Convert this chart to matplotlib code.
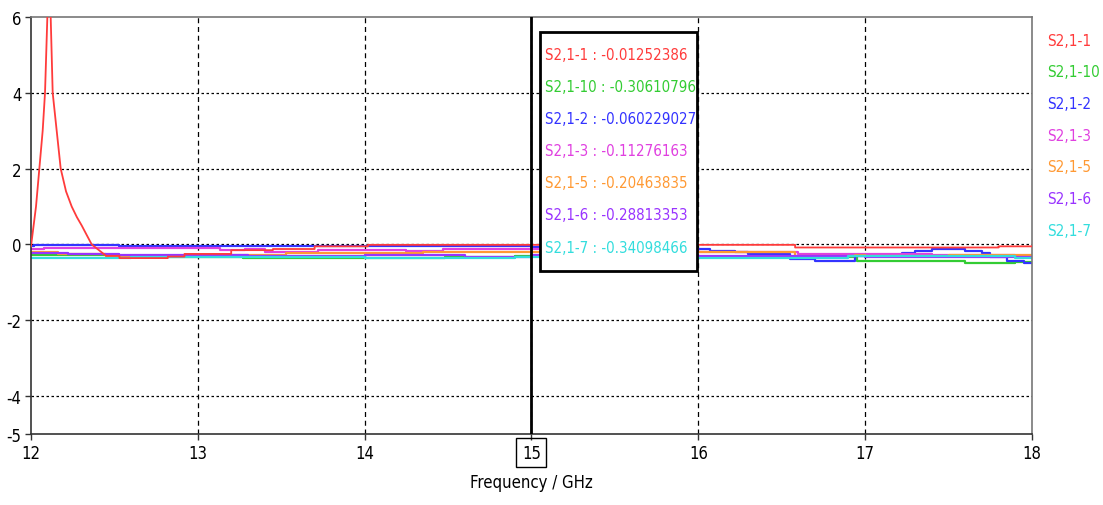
import matplotlib.pyplot as plt
from matplotlib.patches import Rectangle

plt.rcParams['font.family'] = ['DejaVu Sans']
plt.rcParams['font.stretch'] = 'condensed'
plt.rcParams['axes.unicode_minus'] = False

names = ["S2,1-1", "S2,1-10", "S2,1-2", "S2,1-3", "S2,1-5", "S2,1-6", "S2,1-7"]
colors = ["#FF3B3B", "#33CC33", "#3333FF", "#E040E0", "#FF9933", "#9933FF", "#33DDDD"]
marker_values = ["-0.01252386", "-0.30610796", "-0.060229027", "-0.11276163",
                 "-0.20463835", "-0.28813353", "-0.34098466"]

# red: resonance near 12.1 GHz, then steps
f_red = [12.0, 12.03, 12.05, 12.07, 12.084, 12.098, 12.108, 12.118, 12.13, 12.154,
         12.178, 12.21, 12.244, 12.275, 12.304, 12.335, 12.364, 12.43, 12.45, 12.53,
         12.53, 12.82, 12.82, 12.92, 12.92, 13.2, 13.2, 13.45, 13.45, 13.7, 13.7,
         14.02, 14.02, 16.58, 16.58, 17.8, 17.8, 18.0]
v_red = [-0.05, 1.0, 2.0, 3.0, 4.0, 6.0, 7.5, 6.0, 4.0, 3.0,
         2.0, 1.4, 1.0, 0.72, 0.5, 0.24, 0.0, -0.23, -0.3, -0.3,
         -0.36, -0.36, -0.32, -0.32, -0.25, -0.25, -0.15, -0.15, -0.12, -0.12, -0.05,
         -0.05, -0.01, -0.01, -0.08, -0.08, -0.05, -0.05]

# step series: value holds from each frequency to the next
f_green = [12.0, 12.47, 12.74, 13.27, 14.48, 14.9, 16.0, 16.4, 16.95, 17.6, 17.9, 18.0]
v_green = [-0.27, -0.3, -0.32, -0.36, -0.33, -0.306, -0.34, -0.33, -0.43, -0.48, -0.45, -0.45]

f_blue = [12.0, 12.02, 12.53, 15.0, 15.05, 16.07, 16.22, 16.3, 16.55, 16.7, 16.94,
          17.22, 17.3, 17.4, 17.6, 17.7, 17.75, 17.85, 17.95, 18.0]
v_blue = [-0.05, -0.01, -0.05, -0.06, -0.12, -0.17, -0.2, -0.25, -0.38, -0.43, -0.3,
          -0.22, -0.17, -0.13, -0.16, -0.22, -0.33, -0.43, -0.49, -0.49]

f_mag = [12.0, 12.08, 13.13, 13.28, 13.4, 13.72, 14.25, 14.47, 15.0, 16.0, 16.6, 17.4, 17.9, 18.0]
v_mag = [-0.12, -0.09, -0.15, -0.13, -0.2, -0.14, -0.16, -0.12, -0.113, -0.2, -0.25, -0.28, -0.3, -0.3]

f_orange = [12.0, 12.16, 12.45, 13.0, 13.53, 14.35, 15.0, 16.58, 16.94, 17.0, 17.5, 18.0]
v_orange = [-0.2, -0.25, -0.3, -0.27, -0.22, -0.2, -0.205, -0.3, -0.28, -0.3, -0.27, -0.27]

f_purple = [12.0, 12.22, 12.53, 13.3, 14.0, 14.6, 15.0, 16.0, 16.5, 17.0, 17.7, 18.0]
v_purple = [-0.22, -0.25, -0.27, -0.3, -0.28, -0.33, -0.288, -0.3, -0.31, -0.32, -0.33, -0.33]

f_cyan = [12.0, 12.6, 13.3, 14.0, 14.48, 14.9, 16.0, 16.9, 17.9, 18.0]
v_cyan = [-0.35, -0.33, -0.34, -0.36, -0.36, -0.34, -0.36, -0.3, -0.36, -0.36]

fig = plt.figure(figsize=(11.03, 5.06), dpi=100)
ax = fig.add_axes([31 / 1103, 1 - 435 / 506, 1001 / 1103, 417 / 506])

ax.plot(f_red, v_red, color=colors[0], lw=1.3, zorder=3)
steps = [(f_green, v_green), (f_blue, v_blue), (f_mag, v_mag), (f_orange, v_orange),
         (f_purple, v_purple), (f_cyan, v_cyan)]
for (f, v), c in zip(steps, colors[1:]):
    ax.plot(f, v, color=c, lw=1.6, drawstyle='steps-post', zorder=2)

ax.set_xlim(12, 18)
ax.set_ylim(-5, 6)
ax.set_xticks([12, 13, 14, 15, 16, 17, 18])
ax.set_yticks([6, 4, 2, 0, -2, -4, -5])
ax.tick_params(labelsize=12, length=4, width=1, color='#333333', pad=3)

for x in [13, 14, 15, 16, 17]:
    ax.axvline(x, color='black', lw=0.9, ls=(0, (4, 3)), zorder=1)
for y in [-4, -2, 0, 2, 4]:
    ax.axhline(y, color='black', lw=0.9, ls=(0, (2, 2)), zorder=1)

# marker at 15 GHz
ax.axvline(15, color='black', lw=2, zorder=4)

for s in ['left', 'bottom']:
    ax.spines[s].set_color('#333333')
    ax.spines[s].set_linewidth(1.2)
for s in ['top', 'right']:
    ax.spines[s].set_color('#777777')
    ax.spines[s].set_linewidth(1.2)

ax.set_xlabel("Frequency / GHz", fontsize=12, labelpad=8)
lbl = ax.get_xticklabels()[3]
lbl.set_bbox(dict(facecolor='none', edgecolor='black', lw=1, pad=4))

# marker value box
fig.add_artist(Rectangle((540 / 1103, 1 - 272 / 506), 157 / 1103, 239 / 506,
                         transform=fig.transFigure, facecolor='white',
                         edgecolor='black', lw=2, zorder=10))
for i, (n, v, c) in enumerate(zip(names, marker_values, colors)):
    fig.text(545 / 1103, 1 - (55 + i * 32.2) / 506, f"{n} : {v}", color=c,
             fontsize=10.8, va='center', ha='left', zorder=11)

# legend on the right
for i, (n, c) in enumerate(zip(names, colors)):
    fig.text(1047 / 1103, 1 - (41 + i * 31.7) / 506, n, color=c,
             fontsize=11, va='center', ha='left')

fig.savefig("out.png", dpi=100)
